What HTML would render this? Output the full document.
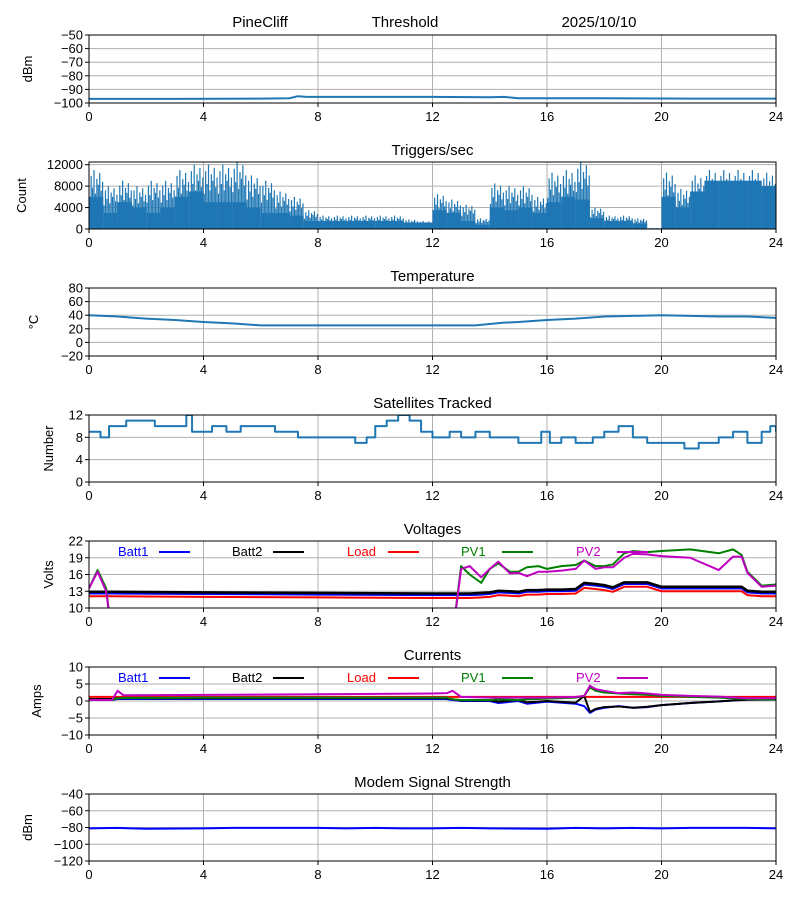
<!DOCTYPE html>
<html><head><meta charset="utf-8">
<style>
body{margin:0;background:#fff;}
svg{display:block;font-family:"Liberation Sans","DejaVu Sans",sans-serif;}
</style></head>
<body>
<svg id="c" width="800" height="900" viewBox="0 0 800 900" xmlns="http://www.w3.org/2000/svg">
<defs></defs>
<text x="260" y="27" font-size="15" text-anchor="middle">PineCliff</text>
<text x="405" y="27" font-size="15" text-anchor="middle">Threshold</text>
<text x="599" y="27" font-size="15" text-anchor="middle">2025/10/10</text>
</svg>
<script>
// ---- data ----
const xTicks = [0,4,8,12,16,20,24];
const thrT = [0,3,6,7,7.3,7.6,9,12,14,14.5,15,18,21,24];
const thrV = [-97,-97,-96.8,-96.5,-95,-95.5,-95.5,-95.5,-95.8,-95.5,-96.5,-96.5,-96.8,-96.8];
const trigPeak = [11000,8000,9000,8000,9000,9000,11000,12000,12000,12000,12500,10000,9000,7000,6000,3500,2500,2500,2500,2500,2500,2500,1800,1500,6500,5500,4500,2000,8500,8000,8000,6000,10500,11000,12500,4000,2500,2500,2000,200,10500,7500,10000,11000,11000,11000,11000,10500];
const trigFill = [6000,3000,5000,4000,3000,4000,6000,7000,5000,5000,5000,4000,3000,3000,2500,1500,1500,1500,1500,1500,1500,1500,1200,1200,3500,3000,1500,800,4000,3500,4000,3000,5000,6000,5500,2000,1500,1500,1000,0,6000,4000,7000,9000,9000,9000,9000,8000];
const tempT = [0,1,2,3,4,5,6,8,10,12,13.5,14,14.5,15,16,17,18,19,20,21,22,23,24];
const tempV = [40,38,35,33,30,28,25,25,25,25,25,27,29,30,33,35,38,39,40,39,38,38,36];
const satT = [0,0.4,0.7,1.1,1.3,2.3,3.4,3.6,4.3,4.8,5.3,5.8,6.5,7.3,8,8.7,9.3,9.7,10,10.4,10.8,11.2,11.6,12,12.6,13,13.5,14,15,15.8,16.1,16.5,17,17.6,18,18.5,19,19.5,20.4,20.8,21.3,22,22.5,23,23.5,23.8,24];
const satV = [9,8,10,10,11,10,12,9,10,9,10,10,9,8,8,8,7,8,10,11,12,11,9,8,9,8,9,8,7,9,7,8,7,8,9,10,8,7,7,6,7,8,9,7,9,10,9];
const voltT = [0,0.3,0.6,0.8,4,8,12,12.7,13,13.3,13.7,14,14.3,14.7,15,15.3,15.7,16,16.5,17,17.3,17.7,18,18.3,18.7,19,19.5,20,21,22,22.5,22.8,23,23.5,24];
const batt1V = [12.6,12.6,12.6,12.6,12.5,12.4,12.3,12.3,12.3,12.3,12.4,12.5,12.8,12.7,12.6,12.9,12.9,13.0,13.0,13.1,14.2,14.0,13.8,13.4,14.3,14.3,14.3,13.5,13.5,13.5,13.5,13.5,12.8,12.6,12.6];
const batt2V = [12.9,12.9,12.9,12.9,12.8,12.7,12.6,12.6,12.6,12.6,12.7,12.8,13.1,13.0,12.9,13.2,13.2,13.3,13.3,13.4,14.5,14.3,14.1,13.7,14.6,14.6,14.6,13.8,13.8,13.8,13.8,13.8,13.1,12.9,12.9];
const loadV = [12.1,12.1,12.1,12.1,12.0,11.9,11.8,11.8,11.8,11.8,11.9,12.0,12.3,12.2,12.1,12.4,12.4,12.5,12.5,12.6,13.6,13.4,13.2,12.9,13.8,13.8,13.8,13.0,13.0,13.0,13.0,13.0,12.3,12.1,12.1];
const pv1V = [13.5,16.8,13.5,5,5,5,5,5,17.5,16,14.5,17,18,16.5,16.5,17.3,17.5,17,17.5,17.7,18.5,17.5,17.5,17.8,19.8,20.2,20,20.2,20.5,19.8,20.5,19.5,16.5,14,14.2];
const pv2V = [13.5,16.5,13,5,5,5,5,5,17,17.5,15.5,17,18.3,16.2,16.3,15.7,16.5,16.5,16.7,17,18.5,17,17.3,17.3,19,19.7,19.6,19.3,19,16.8,19.2,19.2,16.3,13.8,14];
const curT = [0,0.8,1,1.2,4,8,12,12.5,12.7,13,14,14.3,15,15.3,16,17,17.3,17.5,17.7,18,18.5,19,19.5,20,21,22,23,24];
const batt1C = [0.3,0.3,0.6,0.6,0.6,0.6,0.6,0.6,0.3,0,0,-0.6,0,-0.8,-0.2,-0.8,-1.5,-3.5,-2.5,-2,-1.5,-2,-1.8,-1.2,-0.6,-0.1,0.4,0.4];
const batt2C = [0.6,0.6,0.8,0.8,0.8,0.8,0.8,0.8,0.5,0.2,0.2,-0.2,0.3,-0.4,0,-0.5,1.5,-3.2,-2.3,-1.8,-1.6,-2,-1.7,-1.2,-0.6,-0.1,0.4,0.5];
const loadC = [1.2,1.2,1.2,1.2,1.2,1.2,1.2,1.2,1.2,1.2,1.2,1.2,1.2,1.2,1.2,1.2,1.2,1.2,1.2,1.2,1.2,1.2,1.2,1.2,1.2,1.2,1.2,1.2];
const pv1C = [0.3,0.3,0.8,0.9,1.0,1.0,1.0,1.0,0.5,0.3,0.3,0.5,0.3,0.5,0.7,1.0,1.5,4,3,2.5,2.2,2,1.8,1.5,1.2,1,0.6,0.4];
const pv2C = [0.3,0.3,3,1.7,1.8,2,2.2,2.3,3,1.2,1,1,1,1,1,1.2,1.5,4.5,3.5,3,2.3,2.5,2.2,1.8,1.5,1.3,0.8,0.8];
const modemT = [0,1,2,4,5,6,8,9,10,11,12,13,14,16,17,18,19,20,21,22,23,24];
const modemV = [-81,-80.5,-81.5,-81,-80.5,-80.5,-80.5,-81,-80.5,-81,-81,-80.5,-81,-81.5,-80.5,-81,-80.5,-81,-80.5,-80.5,-80.5,-81];
const legendNames = ["Batt1","Batt2","Load","PV1","PV2"];
const legendColors = ["#0000ff","#000000","#ff0000","#008000","#c000c0"];

// ---- drawing ----
const svg = document.getElementById('c');
const NS = 'http://www.w3.org/2000/svg';
const X0 = 89, X1 = 776;
function xs(t){ return X0 + (t/24)*(X1-X0); }
function mk(tag, attrs, parent){
  const e = document.createElementNS(NS, tag);
  for (const k in attrs) e.setAttribute(k, attrs[k]);
  (parent||svg).appendChild(e);
  return e;
}
let clipId = 0;
function panel(name, top, bot, ymin, ymax, yticks, title, ylabel){
  const ys = v => bot - (v-ymin)/(ymax-ymin)*(bot-top);
  const g = mk('g', {});
  
  
  xTicks.forEach(t => { mk('line',{x1:xs(t),x2:xs(t),y1:top,y2:bot,stroke:'#b0b0b0','stroke-width':1},g); });
  yticks.forEach(v => { mk('line',{x1:X0,x2:X1,y1:ys(v),y2:ys(v),stroke:'#b0b0b0','stroke-width':1},g); });
  xTicks.forEach(t => {
    mk('line',{x1:xs(t),x2:xs(t),y1:bot,y2:bot+4,stroke:'#000'},g);
    const tx = mk('text',{x:xs(t),y:bot+18,'font-size':13,'text-anchor':'middle'},g);
    tx.textContent = t;
    
    
  });
  yticks.forEach(v => {
    mk('line',{x1:X0-4,x2:X0,y1:ys(v),y2:ys(v),stroke:'#000'},g);
    const tx = mk('text',{x:X0-6,y:ys(v)+4.5,'font-size':13,'text-anchor':'end'},g);
    tx.textContent = String(v).replace('-','\u2212');
    
    
  });
  const tt = mk('text',{x:(X0+X1)/2,y:top-7,'font-size':15,'text-anchor':'middle'},g);
  tt.textContent = title;
  
  
  if (ylabel){
    const yl = mk('text',{x:0,y:0,'font-size':13,'text-anchor':'middle',transform:`translate(${ylabel[1]},${(top+bot)/2}) rotate(-90)`},g);
    yl.textContent = ylabel[0];
    
    
  }
  const id = 'clip' + (clipId++);
  const cp = mk('clipPath',{id:id},svg.querySelector('defs'));
  mk('rect',{x:X0,y:top,width:X1-X0,height:bot-top},cp);
  const plot = mk('g',{'clip-path':`url(#${id})`},g);
  return {ys, plot, g, top, bot};
}
function frame(p){
  mk('rect',{x:X0,y:p.top,width:X1-X0,height:p.bot-p.top,fill:'none',stroke:'#000','stroke-width':1},p.g);
}
function line(p, T, V, color, w, name, step){
  let d = '';
  T.forEach((t,i) => {
    const x = xs(t), y = p.ys(V[i]);
    if (i===0) d += `M${x},${y}`;
    else if (step) d += `H${x}V${y}`;
    else d += `L${x},${y}`;
  });
  const e = mk('path',{d:d,fill:'none',stroke:color,'stroke-width':w,'stroke-linejoin':'round'},p.plot);
  
  
}
function legend(p, yy){
  const lx = [118,232,347,461,576];
  legendNames.forEach((n,i) => {
    const t = mk('text',{x:lx[i],y:yy+5,'font-size':13,fill:legendColors[i]},p.g);
    t.textContent = n;
    
    
    mk('line',{x1:lx[i]+41,x2:lx[i]+72,y1:yy+1,y2:yy+1,stroke:legendColors[i],'stroke-width':2},p.g);
  });
}

let p = panel('threshold', 35, 103, -100, -50, [-100,-90,-80,-70,-60,-50], '', ['dBm',32]);
line(p, thrT, thrV, '#1f77b4', 2, 'threshold-line');
frame(p);

// Triggers: dense spikes within each half-hour slot
p = panel('triggers', 162, 229, 0, 12500, [0,4000,8000,12000], 'Triggers/sec', ['Count',26]);
const spikeShape = [0.55,0.9,0.7,1.0,0.6,0.85,0.75,0.95,0.65,0.8];
trigPeak.forEach((pk,i) => {
  const xa = xs(i*0.5), xb = xs((i+1)*0.5);
  const r = mk('rect',{x:xa,y:p.ys(trigFill[i]),width:xb-xa,height:p.bot-p.ys(trigFill[i]),fill:'#1f77b4'},p.plot);
  
  
  const w = xb-xa;
  spikeShape.forEach((f,k) => {
    const xx = xa + w*(k+0.5)/spikeShape.length;
    const s = mk('line',{x1:xx,x2:xx,y1:p.bot,y2:p.ys(Math.max(trigFill[i], pk*f)),stroke:'#1f77b4','stroke-width':1.2},p.plot);
    
    
  });
});
frame(p);

p = panel('temperature', 288, 356, -20, 80, [-20,0,20,40,60,80], 'Temperature', ['\u00B0C',38]);
line(p, tempT, tempV, '#1f77b4', 2, 'temperature-line');
frame(p);

p = panel('satellites', 415, 482, 0, 12, [0,4,8,12], 'Satellites Tracked', ['Number',53]);
line(p, satT, satV, '#1f77b4', 2, 'satellites-line', true);
frame(p);

p = panel('voltages', 541, 608, 10, 22, [10,13,16,19,22], 'Voltages', ['Volts',53]);
line(p, voltT, batt1V, '#0000ff', 2, 'batt1-voltage-line');
line(p, voltT, batt2V, '#000000', 2.5, 'batt2-voltage-line');
line(p, voltT, loadV, '#ff0000', 2, 'load-voltage-line');
line(p, voltT, pv1V, '#008000', 2, 'pv1-voltage-line');
line(p, voltT, pv2V, '#c000c0', 2, 'pv2-voltage-line');
legend(p, 551);
frame(p);

p = panel('currents', 667, 735, -10, 10, [-10,-5,0,5,10], 'Currents', ['Amps',41]);
line(p, curT, loadC, '#ff0000', 2, 'load-current-line');
line(p, curT, batt1C, '#0000ff', 2, 'batt1-current-line');
line(p, curT, batt2C, '#000000', 2, 'batt2-current-line');
line(p, curT, pv1C, '#008000', 2, 'pv1-current-line');
line(p, curT, pv2C, '#c000c0', 2, 'pv2-current-line');
legend(p, 677);
frame(p);

p = panel('modem', 794, 861, -120, -40, [-120,-100,-80,-60,-40], 'Modem Signal Strength', ['dBm',32]);
line(p, modemT, modemV, '#0000ff', 2, 'modem-signal-line');
frame(p);
</script>
</body></html>
